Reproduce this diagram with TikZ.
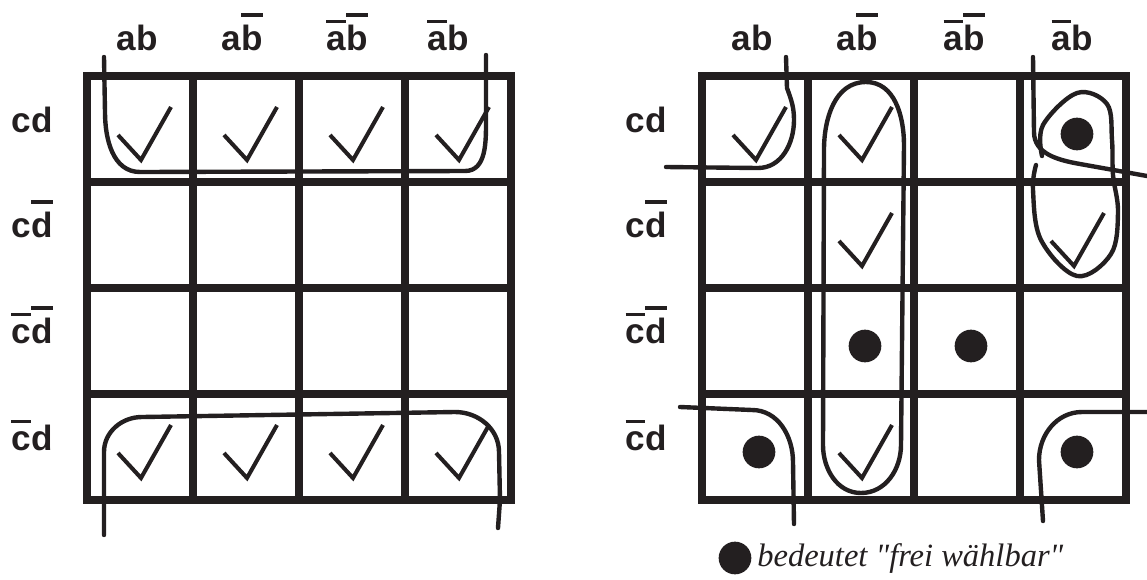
\documentclass[tikz,border=0pt]{standalone}
\usepackage{fontspec}
\setmainfont{Liberation Serif}[Ligatures=TeXOff]
\newfontfamily\mapfont{Liberation Sans}
\definecolor{ink}{HTML}{231F20}

% negated variable: bar set well above the letter
\newcommand{\nt}[1]{\setbox0\hbox{#1}\rlap{\raisebox{\dimexpr\ht0+4.5pt\relax}{\rule{\wd0}{1.9pt}}}\box0}

\tikzset{
  grid line/.style={draw=ink, line width=4.8pt, line cap=rect},
  loop line/.style={draw=ink, line width=2.5pt, line cap=round, line join=round},
  check line/.style={draw=ink, line width=2.3pt},
  var label/.style={text=ink, font=\mapfont\bfseries\fontsize{20}{24}\selectfont,
    anchor=base, inner sep=0pt},
  yes/.pic={\draw[check line] (-22,6) -- (1,31) -- (31,-22);},
  dc/.pic={\fill[ink] (4,5) circle (9.3pt);}
}

\begin{document}
\begin{tikzpicture}[x=0.02cm, y=-0.02cm]
  \useasboundingbox (0,0) rectangle (1147,579);

  % Grids (4x4, cell 106)
  \foreach \ox in {87, 702} {
    \foreach \k in {0,...,4} {
      \draw[grid line] (\ox+106*\k, 76) -- (\ox+106*\k, 500);
      \draw[grid line] (\ox, 76+106*\k) -- (\ox+424, 76+106*\k);
    }
  }

  % Column and row labels
  \foreach \x/\lbl [count=\i] in {137/{ab}, 242/{a\nt{b}}, 347/{\nt{a}\nt{b}}, 448/{\nt{a}b}}
    \node[var label] (colL\i) at (\x, 50) {\lbl};
  \foreach \x/\lbl [count=\i] in {752/{ab}, 857/{a\nt{b}}, 964/{\nt{a}\nt{b}}, 1072/{\nt{a}b}}
    \node[var label] (colR\i) at (\x, 50) {\lbl};
  \foreach \y/\lbl [count=\i] in {132/{cd}, 237/{c\nt{d}}, 343/{\nt{c}\nt{d}}, 450/{\nt{c}d}} {
    \node[var label] (rowL\i) at (32, \y) {\lbl};
    \node[var label] (rowR\i) at (646, \y) {\lbl};
  }

  % Left map: ticks in first and last row
  \foreach \x in {140, 246, 352, 458} {
    \pic at (\x, 129) {yes};
    \pic at (\x, 447) {yes};
  }

  % Left map: groups
  \draw[loop line] (104,57) -- (105,112) to[out=-90, in=180] (140,172)
    -- (465,171) to[out=0, in=-90] (486,120) -- (486,55);
  \draw[loop line] (104,535) -- (104,452) to[out=90, in=180] (142,417)
    -- (455,412) to[out=0, in=90] (499,452) -- (500,500) -- (498,528);

  % Right map: ticks and free cells
  \foreach \x/\y in {755/129, 861/129, 861/235, 1073/235, 861/447}
    \pic at (\x, \y) {yes};
  \foreach \x/\y in {1073/129, 861/341, 967/341, 755/447, 1073/447}
    \pic at (\x, \y) {dc};

  % Right map: groups
  \draw[loop line] (786,57) -- (787,88) to[out=-70, in=90] (794,120)
    to[out=-90, in=0] (758,168) -- (666,167);
  \draw[loop line] (824,150) to[out=90, in=180] (866,82) to[out=0, in=90] (904,145)
    -- (901,445) to[out=-90, in=0] (861,493) to[out=180, in=-90] (823,445) -- cycle;
  \draw[loop line] (1033,57) -- (1034,132) to[out=-90, in=170] (1080,164)
    -- (1147,176);
  \draw[loop line] plot[smooth, tension=0.6] coordinates {(1042,156) (1043,125) (1077,93)
    (1107,104) (1112,140) (1113,175) (1118,212) (1111,254) (1077,276) (1041,240)
    (1033,190) (1036,165)};
  \draw[loop line] (680,407) -- (752,410) to[out=0, in=90] (793,462) -- (794,524);
  \draw[loop line] (1147,412) -- (1082,412) to[out=180, in=90] (1039,460) -- (1043,521);

  % Legend
  \fill[ink] (735,558) circle (9.3pt);
  \node[anchor=base west, inner sep=0pt, text=ink, font=\itshape\fontsize{18.5}{22}\selectfont]
    (legend) at (757,566) {bedeutet "frei wählbar"};
\end{tikzpicture}
\end{document}
